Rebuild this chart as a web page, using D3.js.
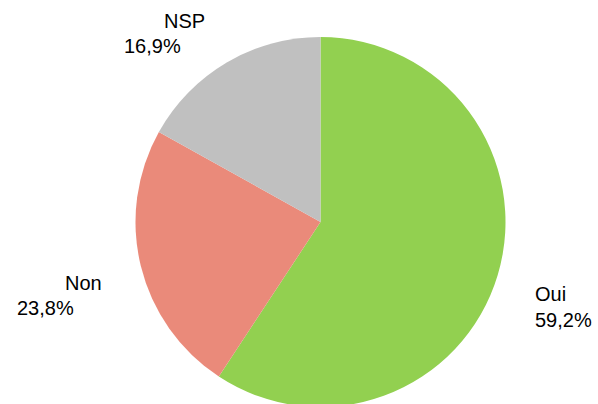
<!DOCTYPE html>
<html>
<head>
<meta charset="utf-8">
<script src="https://cdn.jsdelivr.net/npm/d3@7"></script>
<style>
  html, body { margin: 0; padding: 0; background: #fff; }
  svg { display: block; }
  text { font-family: "Liberation Sans", Arial, sans-serif; font-size: 20px; fill: #000; }
</style>
</head>
<body>
<svg id="chart" width="598" height="404"></svg>
<script>
// Survey answers
const categories = ["Oui", "Non", "NSP"];
const values = [59.2, 23.8, 16.9];
const valueLabels = ["59,2%", "23,8%", "16,9%"];
const colors = ["#92D050", "#EA8A7A", "#C0C0C0"];

// Label placement (name line and value line, left edges / baselines)
const labelLayout = [
  { nameX: 535, nameY: 301, valueX: 535, valueY: 327 },
  { nameX: 65, nameY: 290, valueX: 17, valueY: 315 },
  { nameX: 164, nameY: 28, valueX: 124, valueY: 53 }
];

const width = 598, height = 404;
const cx = 320.5, cy = 222, radius = 185;

const svg = d3.select("#chart");
const g = svg.append("g").attr("transform", `translate(${cx},${cy})`);

const pie = d3.pie().sort(null).value(d => d.value);
const arc = d3.arc().innerRadius(0).outerRadius(radius);

const data = categories.map((c, i) => ({ name: c, value: values[i], label: valueLabels[i], color: colors[i] }));

g.selectAll("path.slice")
  .data(pie(data))
  .join("path")
  .attr("class", "slice")
  .attr("d", arc)
  .attr("fill", d => d.data.color);

const labels = svg.selectAll("g.label")
  .data(data)
  .join("g")
  .attr("class", "label");

labels.append("text")
  .attr("x", (d, i) => labelLayout[i].nameX)
  .attr("y", (d, i) => labelLayout[i].nameY)
  .text(d => d.name);

labels.append("text")
  .attr("x", (d, i) => labelLayout[i].valueX)
  .attr("y", (d, i) => labelLayout[i].valueY)
  .text(d => d.label);
</script>
</body>
</html>
